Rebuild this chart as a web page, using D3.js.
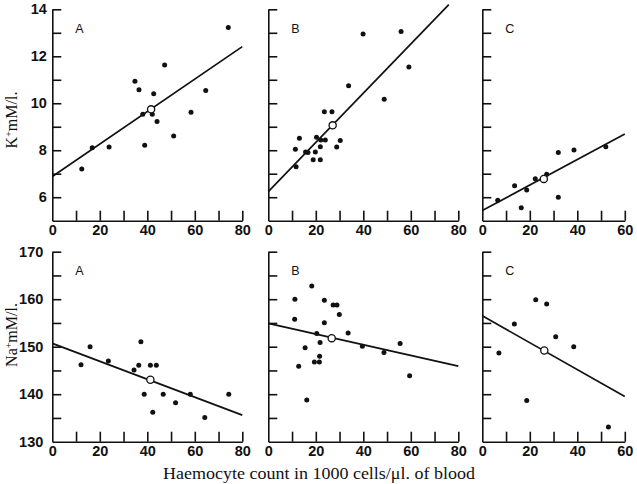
<!DOCTYPE html>
<html>
<head>
<meta charset="utf-8">
<script src="https://cdn.jsdelivr.net/npm/d3@7"></script>
<style>
  html, body { margin: 0; padding: 0; background: #fff; }
  svg { display: block; }
</style>
</head>
<body>
<svg id="chart" width="637" height="484"></svg>
<script>
// ---------------- DATA ----------------
const panelLetters = ["A", "B", "C"];

// K+ (mM/l.) vs haemocyte count (1000 cells/µl)
const kA = [[34.8,10.94],[36.5,10.57],[42.7,10.41],[47.3,11.63],[74.1,13.23],[64.6,10.54],[58.4,9.62],
            [51.1,8.61],[44.1,9.22],[42.1,9.53],[38.1,9.53],[38.9,8.21],[23.9,8.14],[16.8,8.11],[12.4,7.20]];
const kB = [[39.9,12.95],[55.9,13.05],[59.2,11.54],[48.8,10.17],[33.8,10.74],[23.6,9.64],[26.8,9.64],
            [13.1,8.51],[20.3,8.55],[22.1,8.44],[24.0,8.44],[30.3,8.41],[28.8,8.14],[21.9,8.15],[11.4,8.04],
            [15.7,7.93],[16.7,7.90],[19.8,7.93],[18.9,7.59],[21.9,7.59],[11.7,7.30]];
const kC = [[6.5,5.87],[13.6,6.49],[16.4,5.55],[18.7,6.31],[22.3,6.79],[27.1,6.98],[32.0,7.90],
            [38.6,8.01],[32.0,6.00],[52.0,8.15]];
const kMeans = [[41.6,9.74],[27.1,9.06],[25.9,6.78]];
const kLines = [[[0,6.88],[80,12.41]], [[0,6.24],[76,14.2]], [[0,5.43],[60,8.69]]];

// Na+ (mM/l.) vs haemocyte count
const naA = [[12.1,146.2],[15.9,150.0],[23.6,147.0],[34.4,145.1],[36.4,146.1],[37.3,151.05],[41.3,146.1],
             [43.8,146.1],[38.7,140.0],[42.3,136.2],[46.7,140.0],[51.9,138.2],[58.1,140.0],[64.2,135.1],[74.3,140.0]];
const naB = [[18.3,162.8],[11.2,160.0],[23.6,159.8],[27.3,158.8],[28.9,158.8],[29.9,156.8],[11.1,155.8],
             [23.6,155.05],[20.4,152.8],[33.6,152.9],[21.8,150.9],[15.5,149.8],[39.6,150.1],[21.6,148.0],
             [19.4,146.8],[21.5,146.8],[12.8,145.9],[16.2,138.8],[48.7,148.8],[55.5,150.7],[59.5,143.9]];
const naC = [[7.0,148.7],[13.5,154.8],[22.5,159.9],[27.1,159.0],[30.9,152.1],[38.5,150.0],[18.7,138.7],[53.1,133.1]];
const naMeans = [[41.3,143.05],[26.7,151.8],[26.1,149.2]];
const naLines = [[[0,150.7],[80,135.6]], [[0,154.9],[80,145.9]], [[0,156.5],[60,139.5]]];

const xMaxes = [80, 80, 60];
const xTickLabels = [0, 20, 40, 60, 80];
const kDomain = [5, 14];
const kTickLabels = [6, 8, 10, 12, 14];
const naDomain = [130, 170];
const naTickLabels = [130, 140, 150, 160, 170];
const yTitleK = ["K", "+", "mM/l."];
const yTitleNa = ["Na", "+", "mM/l."];
const xTitle = "Haemocyte count in 1000 cells/\u03BCl. of blood";

// ---------------- LAYOUT ----------------
const svg = d3.select("#chart");
const ink = "#111";
const colX0 = [52.3, 268.3, 482.3];
const pxPerUnit = 2.375;
const rows = [
  { top: 9.3, bottom: 220.7, domain: kDomain, labels: kTickLabels, minorStep: 1,
    sets: [kA, kB, kC], means: kMeans, lines: kLines, pad: 5.5 },
  { top: 251.7, bottom: 441.7, domain: naDomain, labels: naTickLabels, minorStep: 5,
    sets: [naA, naB, naC], means: naMeans, lines: naLines, pad: 9 }
];
const tickFont = "'Liberation Sans', Arial, sans-serif";

rows.forEach((row, ri) => {
  const y = d3.scaleLinear().domain(row.domain).range([row.bottom, row.top]);
  const yVals = d3.range(row.domain[0] + row.minorStep, row.domain[1] + 0.001, row.minorStep);
  const yLabelSet = new Set(row.labels);

  xMaxes.forEach((xm, ci) => {
    const x = d3.scaleLinear().domain([0, xm]).range([colX0[ci], colX0[ci] + xm * pxPerUnit]);
    const g = svg.append("g");

    // x axis
    const xVals = d3.range(0, xm + 0.001, 10);
    const xAxis = d3.axisBottom(x).tickValues(xVals).tickSize(-10).tickSizeOuter(0).tickPadding(4)
      .tickFormat(d => xTickLabels.includes(d) ? d : "");
    const gx = g.append("g").attr("transform", `translate(0,${row.bottom})`).call(xAxis);
    gx.selectAll(".tick").filter(d => d === 0).select("line").remove();

    // y axis
    const yAxis = d3.axisLeft(y).tickValues(ci === 0 ? [row.domain[0], ...yVals] : yVals)
      .tickSize(-9).tickSizeOuter(0).tickPadding(row.pad)
      .tickFormat(d => (ci === 0 && yLabelSet.has(d)) ? d : "");
    const gy = g.append("g").attr("transform", `translate(${colX0[ci]},0)`).call(yAxis);
    gy.selectAll(".tick").filter(d => d === row.domain[0]).select("line").remove();

    [gx, gy].forEach(a => {
      a.selectAll("path, line").attr("stroke", ink).attr("stroke-width", 1.6);
      a.selectAll("text").attr("fill", ink).attr("font-family", tickFont)
        .attr("font-size", 14.5).attr("font-weight", "bold");
    });

    // panel letter
    g.append("text").attr("x", colX0[ci] + 23).attr("y", row.top + 23.5)
      .attr("font-family", tickFont).attr("font-size", 12.5).attr("fill", ink)
      .text(panelLetters[ci]);

    // regression line
    const ln = row.lines[ci];
    g.append("line")
      .attr("x1", x(ln[0][0])).attr("y1", y(ln[0][1]))
      .attr("x2", x(ln[1][0])).attr("y2", y(ln[1][1]))
      .attr("stroke", ink).attr("stroke-width", 1.7);

    // points
    g.selectAll("circle.pt").data(row.sets[ci]).join("circle").attr("class", "pt")
      .attr("cx", d => x(d[0])).attr("cy", d => y(d[1])).attr("r", 2.5).attr("fill", ink);

    // mean (open circle)
    const m = row.means[ci];
    g.append("circle").attr("cx", x(m[0])).attr("cy", y(m[1])).attr("r", 3.6)
      .attr("fill", "#fff").attr("stroke", ink).attr("stroke-width", 1.3);
  });
});

// y titles
function yTitle(parts, cy) {
  const t = svg.append("text")
    .attr("transform", `translate(17,${cy}) rotate(-90)`)
    .attr("text-anchor", "middle")
    .attr("font-family", "'Liberation Serif', 'Times New Roman', serif")
    .attr("font-size", 16).attr("fill", ink);
  t.append("tspan").text(parts[0]);
  t.append("tspan").attr("font-size", 10).attr("dy", -5).text(parts[1]);
  t.append("tspan").attr("dy", 5).text(parts[2]);
}
yTitle(yTitleK, 120);
yTitle(yTitleNa, 335);

// x title
svg.append("text").attr("x", 319).attr("y", 479).attr("text-anchor", "middle")
  .attr("font-family", "'Liberation Serif', 'Times New Roman', serif")
  .attr("font-size", 16.5).attr("fill", ink)
  .attr("textLength", 312).attr("lengthAdjust", "spacingAndGlyphs")
  .text(xTitle);
</script>
</body>
</html>
